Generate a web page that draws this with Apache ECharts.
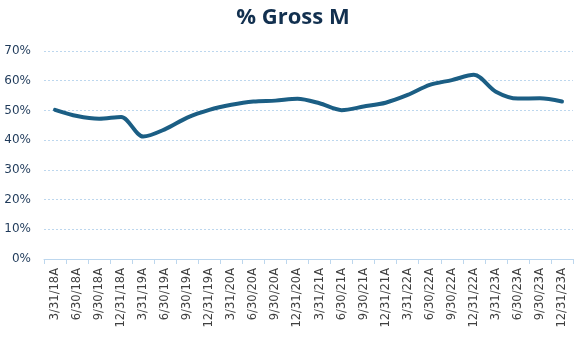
<!DOCTYPE html>
<html><head><meta charset="utf-8">
<script src="https://cdn.jsdelivr.net/npm/echarts@6/dist/echarts.min.js"></script>
<style>html,body{margin:0;padding:0;background:#fff}#c{width:586px;height:341px}</style>
</head><body><div id="c"></div>
<script>
const categories = ["3/31/18A","6/30/18A","9/30/18A","12/31/18A","3/31/19A","6/30/19A","9/30/19A","12/31/19A","3/31/20A","6/30/20A","9/30/20A","12/31/20A","3/31/21A","6/30/21A","9/30/21A","12/31/21A","3/31/22A","6/30/22A","9/30/22A","12/31/22A","3/31/23A","6/30/23A","9/30/23A","12/31/23A"];
const grossMargin = [50.2,48.1,47.2,47.8,41.2,43.7,47.6,50.2,51.9,53.0,53.3,53.9,52.4,50.1,51.3,52.6,55.2,58.6,60.2,62.0,56.3,54.0,54.1,53.0];
const yTicks = [0,10,20,30,40,50,60,70];

const chart = echarts.init(document.getElementById('c'), null, {renderer:'canvas'});
chart.setOption({
  animation:false,
  title:{text:'% Gross M',left:'center',top:2,textStyle:{fontFamily:'Open Sans',fontWeight:'bold',fontSize:22,color:'#12304F'}},
  grid:{left:44,right:13,top:51,bottom:82},
  xAxis:{type:'category',data:categories,boundaryGap:true,
    axisLine:{lineStyle:{color:'#BDD7EE',width:1}},
    axisTick:{show:true,alignWithLabel:false,length:5,lineStyle:{color:'#BDD7EE'}},
    axisLabel:{rotate:90,interval:0,fontFamily:'DejaVu Sans',fontSize:11.5,color:'#404040',margin:9}},
  yAxis:{type:'value',min:yTicks[0],max:yTicks[yTicks.length-1],interval:10,
    axisLine:{show:false},axisTick:{show:false},
    splitLine:{lineStyle:{color:'#BDD7EE',type:[2,2],width:1}},
    axisLabel:{formatter:v=>v+'%',fontFamily:'DejaVu Sans',fontSize:12,color:'#1F3A5A',margin:13}},
  series:[{type:'line',data:grossMargin,smooth:0.3,symbol:'none',
    lineStyle:{color:'#1B5E84',width:4,cap:'round'}}]
});
</script></body></html>
